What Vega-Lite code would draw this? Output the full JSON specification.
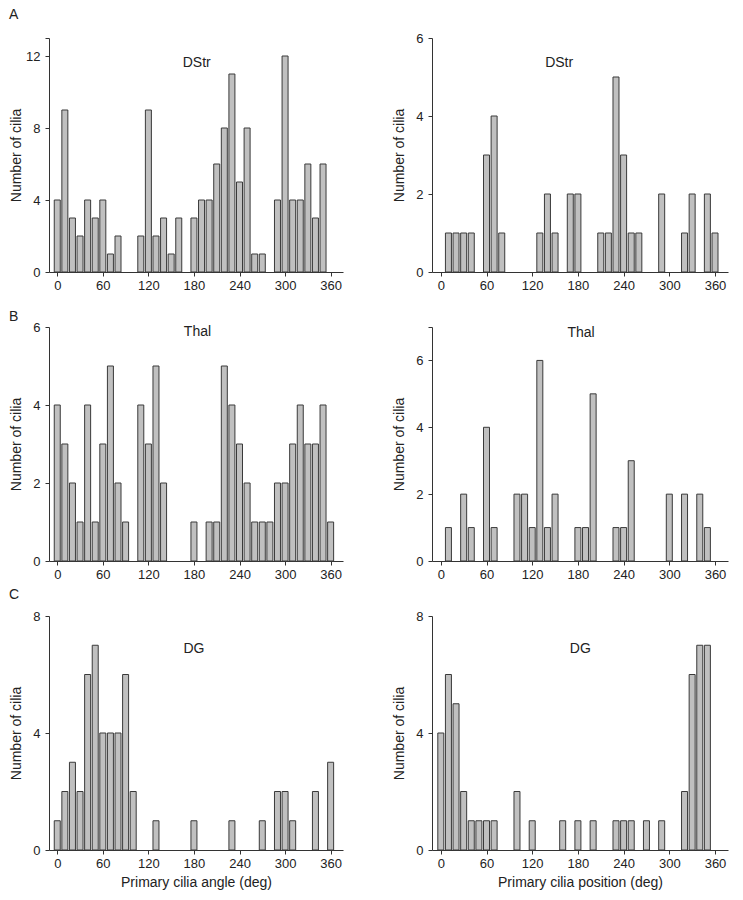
{
  "$schema": "https://vega.github.io/schema/vega-lite/v6.json",
  "background": "white",
  "padding": {"left": 9, "top": 7, "right": 5, "bottom": 5},
  "datasets": {
    "dstr_angle": [{"deg":0,"n":4},{"deg":10,"n":9},{"deg":20,"n":3},{"deg":30,"n":2},{"deg":40,"n":4},{"deg":50,"n":3},{"deg":60,"n":4},{"deg":70,"n":1},{"deg":80,"n":2},{"deg":110,"n":2},{"deg":120,"n":9},{"deg":130,"n":2},{"deg":140,"n":3},{"deg":150,"n":1},{"deg":160,"n":3},{"deg":180,"n":3},{"deg":190,"n":4},{"deg":200,"n":4},{"deg":210,"n":6},{"deg":220,"n":8},{"deg":230,"n":11},{"deg":240,"n":5},{"deg":250,"n":8},{"deg":260,"n":1},{"deg":270,"n":1},{"deg":290,"n":4},{"deg":300,"n":12},{"deg":310,"n":4},{"deg":320,"n":4},{"deg":330,"n":6},{"deg":340,"n":3},{"deg":350,"n":6}],
    "dstr_pos": [{"deg":10,"n":1},{"deg":20,"n":1},{"deg":30,"n":1},{"deg":40,"n":1},{"deg":60,"n":3},{"deg":70,"n":4},{"deg":80,"n":1},{"deg":130,"n":1},{"deg":140,"n":2},{"deg":150,"n":1},{"deg":170,"n":2},{"deg":180,"n":2},{"deg":210,"n":1},{"deg":220,"n":1},{"deg":230,"n":5},{"deg":240,"n":3},{"deg":250,"n":1},{"deg":260,"n":1},{"deg":290,"n":2},{"deg":320,"n":1},{"deg":330,"n":2},{"deg":350,"n":2},{"deg":360,"n":1}],
    "thal_angle": [{"deg":0,"n":4},{"deg":10,"n":3},{"deg":20,"n":2},{"deg":30,"n":1},{"deg":40,"n":4},{"deg":50,"n":1},{"deg":60,"n":3},{"deg":70,"n":5},{"deg":80,"n":2},{"deg":90,"n":1},{"deg":110,"n":4},{"deg":120,"n":3},{"deg":130,"n":5},{"deg":140,"n":2},{"deg":180,"n":1},{"deg":200,"n":1},{"deg":210,"n":1},{"deg":220,"n":5},{"deg":230,"n":4},{"deg":240,"n":3},{"deg":250,"n":2},{"deg":260,"n":1},{"deg":270,"n":1},{"deg":280,"n":1},{"deg":290,"n":2},{"deg":300,"n":2},{"deg":310,"n":3},{"deg":320,"n":4},{"deg":330,"n":3},{"deg":340,"n":3},{"deg":350,"n":4},{"deg":360,"n":1}],
    "thal_pos": [{"deg":10,"n":1},{"deg":30,"n":2},{"deg":40,"n":1},{"deg":60,"n":4},{"deg":70,"n":1},{"deg":100,"n":2},{"deg":110,"n":2},{"deg":120,"n":1},{"deg":130,"n":6},{"deg":140,"n":1},{"deg":150,"n":2},{"deg":180,"n":1},{"deg":190,"n":1},{"deg":200,"n":5},{"deg":230,"n":1},{"deg":240,"n":1},{"deg":250,"n":3},{"deg":300,"n":2},{"deg":320,"n":2},{"deg":340,"n":2},{"deg":350,"n":1}],
    "dg_angle": [{"deg":0,"n":1},{"deg":10,"n":2},{"deg":20,"n":3},{"deg":30,"n":2},{"deg":40,"n":6},{"deg":50,"n":7},{"deg":60,"n":4},{"deg":70,"n":4},{"deg":80,"n":4},{"deg":90,"n":6},{"deg":100,"n":2},{"deg":130,"n":1},{"deg":180,"n":1},{"deg":230,"n":1},{"deg":270,"n":1},{"deg":290,"n":2},{"deg":300,"n":2},{"deg":310,"n":1},{"deg":340,"n":2},{"deg":360,"n":3}],
    "dg_pos": [{"deg":0,"n":4},{"deg":10,"n":6},{"deg":20,"n":5},{"deg":30,"n":2},{"deg":40,"n":1},{"deg":50,"n":1},{"deg":60,"n":1},{"deg":70,"n":1},{"deg":100,"n":2},{"deg":120,"n":1},{"deg":160,"n":1},{"deg":180,"n":1},{"deg":200,"n":1},{"deg":230,"n":1},{"deg":240,"n":1},{"deg":250,"n":1},{"deg":270,"n":1},{"deg":290,"n":1},{"deg":320,"n":2},{"deg":330,"n":6},{"deg":340,"n":7},{"deg":350,"n":7}]
  },
  "columns": 2,
  "bounds": "flush",
  "spacing": {"row": 55, "column": 89},
  "concat": [
    {
      "width": 294, "height": 234,
      "title": {"text": "A", "anchor": "start", "frame": "bounds", "offset": 16},
      "layer": [
        {
          "data": {"name": "dstr_angle"},
          "mark": {"type": "bar", "orient": "vertical", "width": 6, "fill": "#c0c0c0", "stroke": "#3a3a3a", "strokeWidth": 1},
          "encoding": {
            "x": {"field": "deg", "type": "quantitative", "scale": {"domain": [-4.3, 369.7], "nice": false, "zero": false},
                  "axis": {"values": [0,30,60,90,120,150,180,210,240,270,300,330,360], "labelExpr": "datum.value % 60 === 0 ? datum.label : ''", "title": null}},
            "y": {"field": "n", "type": "quantitative", "scale": {"domain": [0, 13], "nice": false},
                  "axis": {"values": [0,4,8,12,13], "labelExpr": "datum.value == 13 ? '' : datum.label", "title": "Number of cilia"}}
          }
        },
        {
          "data": {"values": [{}]},
          "mark": {"type": "text", "text": "DStr", "fontSize": 14, "align": "center", "baseline": "middle", "color": "#222"},
          "encoding": {"x": {"datum": 183.6, "type": "quantitative"}, "y": {"datum": 11.6, "type": "quantitative"}}
        }
      ]
    },
    {
      "width": 296, "height": 234,
      "layer": [
        {
          "data": {"name": "dstr_pos"},
          "mark": {"type": "bar", "orient": "vertical", "width": 6, "fill": "#c0c0c0", "stroke": "#3a3a3a", "strokeWidth": 1},
          "encoding": {
            "x": {"field": "deg", "type": "quantitative", "scale": {"domain": [-5, 370.5], "nice": false, "zero": false},
                  "axis": {"values": [0,30,60,90,120,150,180,210,240,270,300,330,360], "labelExpr": "datum.value % 60 === 0 ? datum.label : ''", "title": null}},
            "y": {"field": "n", "type": "quantitative", "scale": {"domain": [0, 6], "nice": false},
                  "axis": {"values": [0,2,4,6], "title": "Number of cilia"}}
          }
        },
        {
          "data": {"values": [{}]},
          "mark": {"type": "text", "text": "DStr", "fontSize": 14, "align": "center", "baseline": "middle", "color": "#222"},
          "encoding": {"x": {"datum": 155.4, "type": "quantitative"}, "y": {"datum": 5.35, "type": "quantitative"}}
        }
      ]
    },
    {
      "width": 294, "height": 234,
      "title": {"text": "B", "anchor": "start", "frame": "bounds", "offset": -3},
      "layer": [
        {
          "data": {"name": "thal_angle"},
          "mark": {"type": "bar", "orient": "vertical", "width": 6, "fill": "#c0c0c0", "stroke": "#3a3a3a", "strokeWidth": 1},
          "encoding": {
            "x": {"field": "deg", "type": "quantitative", "scale": {"domain": [-4.3, 369.7], "nice": false, "zero": false},
                  "axis": {"values": [0,30,60,90,120,150,180,210,240,270,300,330,360], "labelExpr": "datum.value % 60 === 0 ? datum.label : ''", "title": null}},
            "y": {"field": "n", "type": "quantitative", "scale": {"domain": [0, 6], "nice": false},
                  "axis": {"values": [0,2,4,6], "title": "Number of cilia"}}
          }
        },
        {
          "data": {"values": [{}]},
          "mark": {"type": "text", "text": "Thal", "fontSize": 14, "align": "center", "baseline": "middle", "color": "#222"},
          "encoding": {"x": {"datum": 184.6, "type": "quantitative"}, "y": {"datum": 5.86, "type": "quantitative"}}
        }
      ]
    },
    {
      "width": 296, "height": 234,
      "layer": [
        {
          "data": {"name": "thal_pos"},
          "mark": {"type": "bar", "orient": "vertical", "width": 6, "fill": "#c0c0c0", "stroke": "#3a3a3a", "strokeWidth": 1},
          "encoding": {
            "x": {"field": "deg", "type": "quantitative", "scale": {"domain": [-5, 370.5], "nice": false, "zero": false},
                  "axis": {"values": [0,30,60,90,120,150,180,210,240,270,300,330,360], "labelExpr": "datum.value % 60 === 0 ? datum.label : ''", "title": null}},
            "y": {"field": "n", "type": "quantitative", "scale": {"domain": [0, 7], "nice": false},
                  "axis": {"values": [0,2,4,6,7], "labelExpr": "datum.value == 7 ? '' : datum.label", "title": "Number of cilia"}}
          }
        },
        {
          "data": {"values": [{}]},
          "mark": {"type": "text", "text": "Thal", "fontSize": 14, "align": "center", "baseline": "middle", "color": "#222"},
          "encoding": {"x": {"datum": 184.2, "type": "quantitative"}, "y": {"datum": 6.83, "type": "quantitative"}}
        }
      ]
    },
    {
      "width": 294, "height": 234,
      "title": {"text": "C", "anchor": "start", "frame": "bounds", "offset": 8},
      "layer": [
        {
          "data": {"name": "dg_angle"},
          "mark": {"type": "bar", "orient": "vertical", "width": 6, "fill": "#c0c0c0", "stroke": "#3a3a3a", "strokeWidth": 1},
          "encoding": {
            "x": {"field": "deg", "type": "quantitative", "scale": {"domain": [-4.3, 369.7], "nice": false, "zero": false},
                  "axis": {"values": [0,30,60,90,120,150,180,210,240,270,300,330,360], "labelExpr": "datum.value % 60 === 0 ? datum.label : ''", "title": "Primary cilia angle (deg)"}},
            "y": {"field": "n", "type": "quantitative", "scale": {"domain": [0, 8], "nice": false},
                  "axis": {"values": [0,4,8], "title": "Number of cilia"}}
          }
        },
        {
          "data": {"values": [{}]},
          "mark": {"type": "text", "text": "DG", "fontSize": 14, "align": "center", "baseline": "middle", "color": "#222"},
          "encoding": {"x": {"datum": 180, "type": "quantitative"}, "y": {"datum": 6.88, "type": "quantitative"}}
        }
      ]
    },
    {
      "width": 296, "height": 234,
      "layer": [
        {
          "data": {"name": "dg_pos"},
          "mark": {"type": "bar", "orient": "vertical", "width": 6, "fill": "#c0c0c0", "stroke": "#3a3a3a", "strokeWidth": 1},
          "encoding": {
            "x": {"field": "deg", "type": "quantitative", "scale": {"domain": [-5, 370.5], "nice": false, "zero": false},
                  "axis": {"values": [0,30,60,90,120,150,180,210,240,270,300,330,360], "labelExpr": "datum.value % 60 === 0 ? datum.label : ''", "title": "Primary cilia position (deg)"}},
            "y": {"field": "n", "type": "quantitative", "scale": {"domain": [0, 8], "nice": false},
                  "axis": {"values": [0,4,8], "title": "Number of cilia"}}
          }
        },
        {
          "data": {"values": [{}]},
          "mark": {"type": "text", "text": "DG", "fontSize": 14, "align": "center", "baseline": "middle", "color": "#222"},
          "encoding": {"x": {"datum": 183.1, "type": "quantitative"}, "y": {"datum": 6.88, "type": "quantitative"}}
        }
      ]
    }
  ],
  "config": {
    "font": "Liberation Sans",
    "view": {"stroke": null},
    "title": {"fontSize": 14, "fontWeight": "normal", "color": "#222", "font": "Liberation Sans"},
    "text": {"font": "Liberation Sans"},
    "axis": {
      "grid": false,
      "domainColor": "#333", "tickColor": "#333", "domainWidth": 1, "tickWidth": 1, "tickSize": 4,
      "labelColor": "#222", "labelFontSize": 13, "labelFont": "Liberation Sans",
      "titleColor": "#222", "titleFontSize": 14, "titleFontWeight": "normal", "titleFont": "Liberation Sans",
      "labelPadding": 4
    },
    "axisY": {"titleX": -33, "titleBaseline": "middle", "labelPadding": 5},
    "axisX": {"labelPadding": 3, "titlePadding": 5}
  }
}
